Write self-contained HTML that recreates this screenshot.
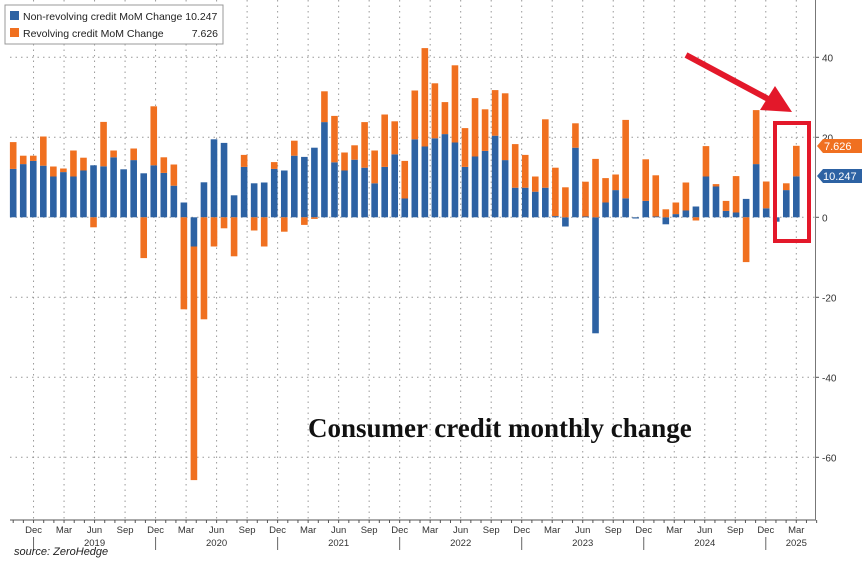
<!DOCTYPE html>
<html><head><meta charset="utf-8"><style>
html,body{margin:0;padding:0;background:#fff;}
svg{display:block;font-family:"Liberation Sans",sans-serif;}
</style></head><body>
<svg width="864" height="563" viewBox="0 0 864 563">
<g id="grid"></g>
<g id="bars"></g>
<g id="axes"></g>
<g>
 <rect x="5" y="5" width="218" height="39" fill="#fff" stroke="#999" stroke-width="1"/>
 <rect x="10" y="11" width="9" height="9" fill="#2d62a3"/>
 <text x="23" y="20" font-size="10.5" fill="#222">Non-revolving credit MoM Change 10.247</text>
 <rect x="10" y="28" width="9" height="9" fill="#f07020"/>
 <text x="23" y="37" font-size="10.5" fill="#222">Revolving credit MoM Change</text>
 <text x="218" y="37" font-size="10.5" fill="#222" text-anchor="end">7.626</text>
</g>
<g>
 <path d="M817,146 L823,139 L862,139 L862,153 L823,153 Z" fill="#f07020"/>
 <text x="824" y="150" font-size="11" fill="#fff">7.626</text>
 <path d="M817,176 L823,169 L862,169 L862,183 L823,183 Z" fill="#2d62a3"/>
 <text x="823" y="180" font-size="11" fill="#fff">10.247</text>
</g>
<g>
 <rect x="775" y="123" width="34" height="118" fill="none" stroke="#e3182a" stroke-width="4"/>
 <line x1="686" y1="55" x2="770" y2="100" stroke="#e3182a" stroke-width="6"/>
 <polygon points="792,112 760,110 775,86" fill="#e3182a"/>
 <text x="308" y="437" font-family="Liberation Serif,serif" font-weight="bold" font-size="27" fill="#111">Consumer credit monthly change</text>
</g>
<text x="14" y="555" font-size="11" font-style="italic" fill="#222">source: ZeroHedge</text>
</svg>
<script>
const nonRevolving = [12.1,13.3,14.1,12.9,10.2,11.3,10.2,11.7,13,12.75,15,12,14.3,11,13,11.1,7.9,3.7,-7.3,8.75,19.5,18.6,5.5,12.6,8.5,8.7,12.1,11.7,15.4,15.1,17.4,23.8,13.75,11.7,14.4,12.4,8.5,12.6,15.75,4.7,19.5,17.7,19.75,20.8,18.7,12.6,15.2,16.6,20.4,14.3,7.4,7.4,6.4,7.4,0.3,-2.3,17.4,0.2,-29,3.7,6.8,4.75,-0.3,4.1,0.2,-1.75,0.8,1.7,2.7,10.2,7.7,1.6,1.2,4.6,13.3,2.25,-1.1,6.8,10.247];
const revolving = [6.7,2.1,1.3,7.3,2.5,0.9,6.5,3.2,-2.5,11.1,1.7,0,2.9,-10.2,14.75,3.9,5.3,-23,-58.4,-25.5,-7.3,-2.75,-9.75,3,-3.3,-7.3,1.7,-3.6,3.75,-1.9,-0.4,7.7,11.6,4.5,3.6,11.4,8.2,13.1,8.25,9.4,12.2,24.6,13.75,8,19.3,9.7,14.6,10.4,11.4,16.7,10.9,8.2,3.8,17.1,12.1,7.5,6.1,8.7,14.6,6.1,3.9,19.6,0,10.4,10.3,2,2.9,7,-0.8,7.6,0.6,2.5,9.1,-11.2,13.5,6.7,0,1.7,7.626];
const yTicks = [40,20,0,-20,-40,-60];
const monthLabels = ["Dec","Mar","Jun","Sep"];
const yearLabels = ["2019","2020","2021","2022","2023","2024","2025"];

const NS="http://www.w3.org/2000/svg";
function mk(tag,attrs,parent,text){const e=document.createElementNS(NS,tag);for(const k in attrs)e.setAttribute(k,attrs[k]);if(text!==undefined)e.textContent=text;parent.appendChild(e);return e;}
const y = v => 217.3 - v*4.0;
const xBar = i => 13.2 + i*10.04;
const xMonth = m => 13.2 + m*10.17;
const grid=document.getElementById('grid'), bars=document.getElementById('bars'), axes=document.getElementById('axes');

yTicks.forEach(t=>{
  const l=mk('line',{x1:10,x2:815,y1:y(t),y2:y(t),stroke:'#999','stroke-width':1,'stroke-dasharray':'1.5,4'},grid);
  
  
  const tk=mk('line',{x1:815,x2:819,y1:y(t),y2:y(t),stroke:'#555'},axes);
  
  
  const tx=mk('text',{x:822,y:y(t)+4,'font-size':10,fill:'#333'},axes,String(t));
  
  
});
for(let q=0;q<26;q++){
  const m=2+q*3, x=xMonth(m);
  const g=mk('line',{x1:x,x2:x,y1:0,y2:520,stroke:'#999','stroke-width':1,'stroke-dasharray':'1.5,4'},grid);
  
  
  const t=mk('text',{x:x,y:533,'font-size':9.5,fill:'#333','text-anchor':'middle'},axes,monthLabels[q%4]);
  
  
  if(q%4===0){
    const s=mk('line',{x1:x,x2:x,y1:537,y2:550,stroke:'#666'},axes);
    
    
  }
}
yearLabels.forEach((yr,k)=>{
  const x = k<6 ? (xMonth(2+k*12)+xMonth(14+k*12))/2 : xMonth(77);
  const t=mk('text',{x:x,y:546,'font-size':9.5,fill:'#333','text-anchor':'middle'},axes,yr);
  
  
});
for(let m=0;m<80;m++){
  const x=xMonth(m);
  const t=mk('line',{x1:x,x2:x,y1:520,y2:523,stroke:'#555'},axes);
  
  
}
const ax1=mk('line',{x1:10,x2:816,y1:520,y2:520,stroke:'#555'},axes);


const ax2=mk('line',{x1:815.5,x2:815.5,y1:0,y2:520,stroke:'#777'},axes);



const W=6.6;
nonRevolving.forEach((b,i)=>{
  const r=revolving[i], x=xBar(i)-W/2;
  let pos=0,neg=0;
  [[b,'#2d62a3','bar-nonrevolving'],[r,'#f07020','bar-revolving']].forEach(([v,c,n])=>{
    let y0,y1;
    if(v>=0){y0=pos;y1=pos+v;pos=y1;}else{y0=neg;y1=neg+v;neg=y1;}
    const top=Math.min(y(y0),y(y1)), h=Math.abs(y(y1)-y(y0));
    const rc=mk('rect',{x:x,y:top,width:W,height:Math.max(h,0.01),fill:c},bars);
    
    
  });
});
</script>
</body></html>
